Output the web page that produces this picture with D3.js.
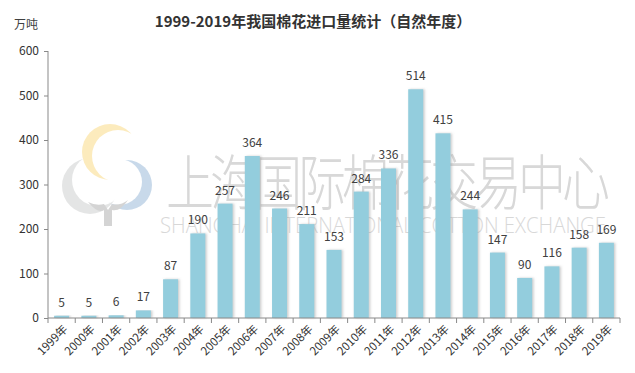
<!DOCTYPE html>
<html lang="zh">
<head>
<meta charset="UTF-8">
<title>1999-2019年我国棉花进口量统计</title>
<script src="https://d3js.org/d3.v7.min.js"></script>
<style>
  body { margin: 0; background: #fff; }
  text { font-family: "Noto Sans CJK SC", "Open Sans", sans-serif; }
  .axis path, .axis line { stroke: #898989; }
  .tick text { fill: #333; font-size: 12px; }
</style>
</head>
<body>
<script>
const years = ["1999年","2000年","2001年","2002年","2003年","2004年","2005年","2006年","2007年","2008年","2009年","2010年","2011年","2012年","2013年","2014年","2015年","2016年","2017年","2018年","2019年"];
const imports = [5, 5, 6, 17, 87, 190, 257, 364, 246, 211, 153, 284, 336, 514, 415, 244, 147, 90, 116, 158, 169];
const yTicks = [0, 100, 200, 300, 400, 500, 600];

const width = 635, height = 373;
const margin = { top: 51, right: 15, bottom: 55, left: 48 };

const svg = d3.select("body").append("svg")
  .attr("width", width)
  .attr("height", height);

const defs = svg.append("defs");
const shadow = defs.append("filter").attr("id", "shadow")
  .attr("x", "-20%").attr("y", "-5%").attr("width", "150%").attr("height", "110%");
shadow.append("feDropShadow")
  .attr("dx", 1.5).attr("dy", 0).attr("stdDeviation", 0.8)
  .attr("flood-color", "#999").attr("flood-opacity", 0.5);

// watermark logo: three crescents + trunk
const crescents = [
  { id: "m1", o: [110, 152, 28], i: [118, 156, 26], c: "#fcebbd" },
  { id: "m2", o: [127, 185, 25], i: [119, 182, 23], c: "#c8d9ea" },
  { id: "m3", o: [90, 186, 28], i: [98, 180, 26], c: "#e4e5e5" }
];
crescents.forEach(cr => {
  const m = defs.append("mask").attr("id", cr.id);
  m.append("rect").attr("width", width).attr("height", height).attr("fill", "black");
  m.append("circle").attr("cx", cr.o[0]).attr("cy", cr.o[1]).attr("r", cr.o[2]).attr("fill", "white");
  m.append("circle").attr("cx", cr.i[0]).attr("cy", cr.i[1]).attr("r", cr.i[2]).attr("fill", "black");
});
const wm = svg.append("g");
wm.selectAll("rect.cr")
  .data(crescents)
  .join("rect")
  .attr("class", "cr")
  .attr("width", width).attr("height", height)
  .attr("fill", d => d.c)
  .attr("mask", d => `url(#${d.id})`);
wm.append("path")
  .attr("d", "M88,202 Q98,214 104,210 L104,226 L112,226 L112,210 Q120,212 128,200 Q120,206 112,204 L108,210 L104,204 Q96,206 88,202 Z")
  .attr("fill", "#d4d4d4");
wm.append("text")
  .attr("transform", "translate(166,205) scale(1,1.25)")
  .attr("font-size", 48)
  .attr("letter-spacing", -4)
  .attr("fill", "#d8d8d8")
  .style("font-family", "'Noto Sans CJK SC', sans-serif")
  .style("font-weight", 300)
  .text("上海国际棉花交易中心");
wm.append("text")
  .attr("x", 160).attr("y", 233)
  .attr("font-size", 22)
  .attr("textLength", 446)
  .attr("lengthAdjust", "spacingAndGlyphs")
  .attr("fill", "#d8d8d8")
  .style("font-family", "'Open Sans', sans-serif")
  .style("font-weight", 300)
  .text("SHANGHAI INTERNATIONAL COTTON EXCHANGE");

const x = d3.scaleBand()
  .domain(years)
  .range([margin.left, width - margin.right])
  .paddingInner(0.45)
  .paddingOuter(0.225);

const y = d3.scaleLinear()
  .domain([0, 600])
  .range([height - margin.bottom, margin.top]);

// bars
svg.append("g")
  .selectAll("rect")
  .data(imports)
  .join("rect")
  .attr("x", (d, i) => x(years[i]))
  .attr("y", d => y(d))
  .attr("width", x.bandwidth())
  .attr("height", d => y(0) - y(d))
  .attr("fill", "#93cddd")
  .attr("filter", "url(#shadow)");

// value labels
svg.append("g")
  .selectAll("text")
  .data(imports)
  .join("text")
  .attr("x", (d, i) => x(years[i]) + x.bandwidth() / 2)
  .attr("y", d => y(d) - 9)
  .attr("text-anchor", "middle")
  .attr("font-size", 12)
  .attr("fill", "#404040")
  .text(d => d);

// y axis
svg.append("g")
  .attr("class", "axis")
  .attr("transform", `translate(${margin.left},0)`)
  .call(d3.axisLeft(y).tickValues(yTicks).tickSize(4).tickPadding(5))
  .call(g => g.select(".domain").attr("d", `M0,${y(600)}V${y(0)}`));

// x axis
const xAxis = svg.append("g")
  .attr("class", "axis")
  .attr("transform", `translate(0,${y(0)})`)
  .call(d3.axisBottom(x).tickSize(0).tickFormat(""));
xAxis.select(".domain").attr("d", `M${margin.left},0H${width - margin.right}`);

xAxis.append("g")
  .selectAll("line")
  .data(d3.range(years.length + 1))
  .join("line")
  .attr("x1", i => margin.left + i * (width - margin.left - margin.right) / years.length)
  .attr("x2", i => margin.left + i * (width - margin.left - margin.right) / years.length)
  .attr("y1", 0).attr("y2", 5)
  .attr("stroke", "#898989");

xAxis.append("g")
  .selectAll("text")
  .data(years)
  .join("text")
  .attr("transform", d => `translate(${x(d) + x.bandwidth() / 2 + 4},${9}) rotate(-45)`)
  .attr("text-anchor", "end")
  .attr("dy", "0.35em")
  .attr("font-size", 11.5)
  .attr("fill", "#333")
  .text(d => d);

// titles
svg.append("text")
  .attr("x", 313).attr("y", 27)
  .attr("text-anchor", "middle")
  .attr("font-size", 15)
  .attr("font-weight", "bold")
  .attr("fill", "#333")
  .text("1999-2019年我国棉花进口量统计（自然年度）");

svg.append("text")
  .attr("x", 14).attr("y", 29)
  .attr("font-size", 12)
  .attr("fill", "#404040")
  .text("万吨");
</script>
</body>
</html>
